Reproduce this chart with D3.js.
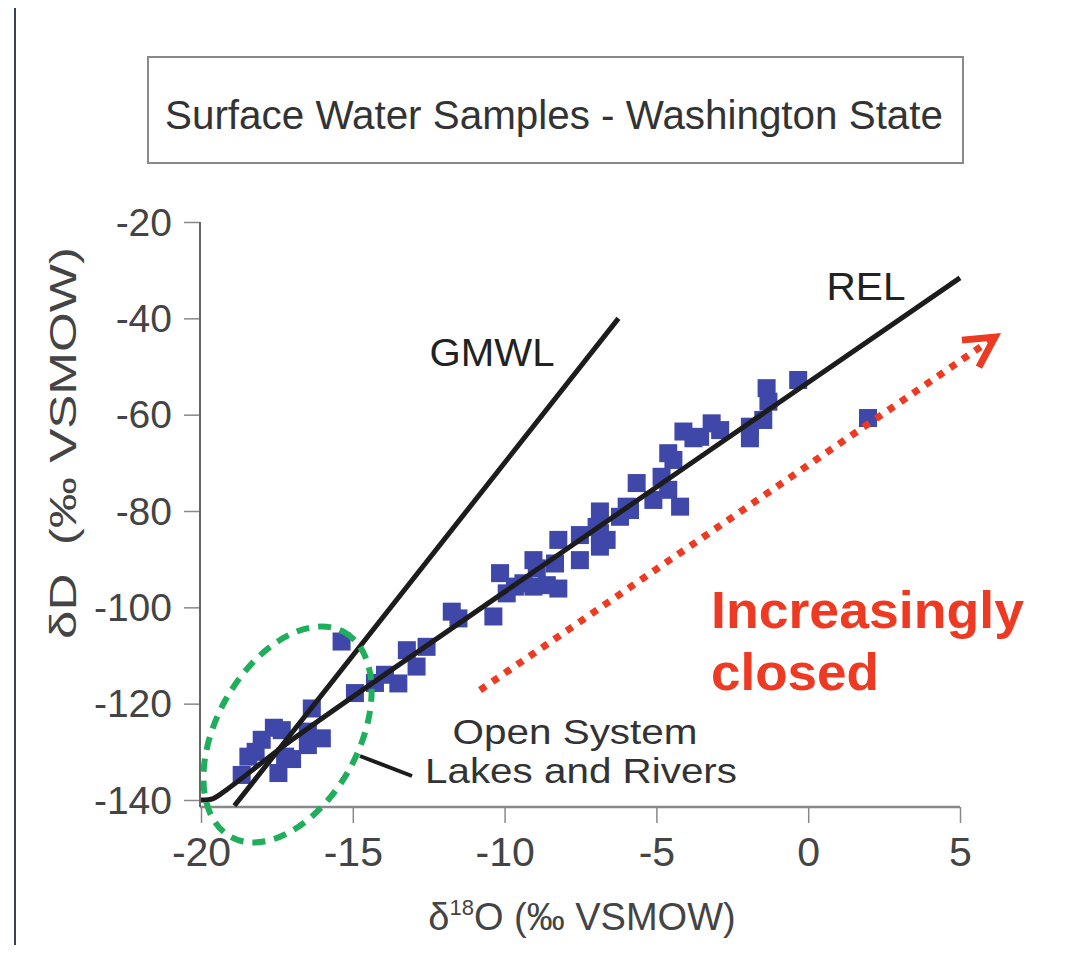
<!DOCTYPE html>
<html>
<head>
<meta charset="utf-8">
<script src="https://cdn.jsdelivr.net/npm/d3@7"></script>
<style>
  body { margin: 0; background: #fff; }
  svg text { font-family: "Liberation Sans", Arial, sans-serif; }
</style>
</head>
<body>
<div id="chart"></div>
<script>
// samples: [d18O, dD]
var lowerCluster = [
  [-18.66, -134.8], [-18.44, -131], [-18.2, -130], [-18.0, -127.5], [-17.6, -125],
  [-17.45, -134.4], [-17.34, -125.5], [-17.23, -131], [-17.0, -131.5], [-16.48, -125.8],
  [-16.48, -128.6], [-16.35, -121], [-16.02, -127.2], [-15.37, -107.1], [-14.93, -117.8],
  [-14.27, -115.7], [-13.94, -114], [-13.5, -115.8], [-13.22, -108.9], [-12.9, -112.3],
  [-12.57, -108.2]
];
var middleCluster = [
  [-11.74, -100.9], [-11.52, -102.3], [-10.37, -101.9], [-10.15, -92.9], [-9.93, -97.1],
  [-9.66, -95.7], [-9.38, -95], [-9.05, -90.2], [-8.94, -91.9], [-9.05, -95.7],
  [-8.61, -95.4], [-8.23, -96.1], [-8.34, -90.9], [-8.23, -86], [-7.52, -90.2],
  [-7.52, -85], [-6.97, -83.3], [-6.86, -80.1], [-6.86, -87.4], [-6.64, -86],
  [-6.2, -81.2], [-5.98, -79.1], [-6.86, -84.6]
];
var upperCluster = [
  [-5.87, -79.8], [-5.65, -74.2], [-5.1, -77.7], [-4.83, -72.9], [-4.61, -75.6],
  [-4.22, -79.1], [-4.61, -68], [-4.44, -69.4], [-4.11, -63.5], [-3.78, -64.9],
  [-3.56, -64.6], [-3.18, -61.8], [-2.9, -63.2], [-1.92, -62.5], [-1.92, -64.9],
  [-1.48, -61.1], [-1.37, -54.5], [-1.31, -57.3], [-0.33, -52.8], [1.97, -60.7]
];

// reference lines
var gmwl = [[-18.9, -141.2], [-6.25, -40]];
var rel = [[-20, -140], [-19.6, -139.7], [-19.1, -137.6], [-17, -127.5], [-10, -96.8], [5, -31.6]];
// "increasingly closed" trend arrow
var trendArrow = [[-10.81, -117.2], [6.15, -43.9]];

var xTicks = [-20, -15, -10, -5, 0, 5];
var yTicks = [-20, -40, -60, -80, -100, -120, -140];

var svg = d3.select("#chart").append("svg")
  .attr("width", 1076)
  .attr("height", 953);

var x = d3.scaleLinear().domain([-20, 5]).range([201, 960]);
var y = d3.scaleLinear().domain([-140, -20]).range([800, 222]);
var axisY = 807;

// stretch a text to the width it has in the figure
function fit(sel, w) {
  sel.attr("textLength", w).attr("lengthAdjust", "spacingAndGlyphs");
  return sel;
}

// thin frame line on the left edge of the slide
svg.append("line")
  .attr("x1", 15).attr("x2", 15).attr("y1", 8).attr("y2", 945)
  .style("stroke", "#3a4150").style("stroke-width", 2);

// title box
svg.append("rect")
  .attr("x", 148).attr("y", 57).attr("width", 815).attr("height", 106)
  .style("fill", "none").style("stroke", "#8a8a8a").style("stroke-width", 2);
fit(svg.append("text")
  .attr("x", 554).attr("y", 129)
  .style("text-anchor", "middle")
  .style("font-size", "40px")
  .style("fill", "#333")
  .text("Surface Water Samples - Washington State"), 778);

// axes
var gx = svg.append("g").attr("transform", "translate(0," + axisY + ")");
gx.call(d3.axisBottom(x).tickValues(d3.range(-20, 6, 1)).tickSize(8).tickFormat(""));
gx.call(d3.axisBottom(x).tickValues(xTicks).tickSize(16).tickFormat(function (d) { return String(d); }));
gx.selectAll("path.domain").remove();
gx.selectAll("line").style("stroke", "#888").style("stroke-width", 1.5);
gx.selectAll("text")
  .attr("y", 59)
  .attr("dy", 0)
  .style("font-size", "41px")
  .style("fill", "#444")
  .style("font-family", "'Liberation Sans', Arial, sans-serif");

var gy = svg.append("g").attr("transform", "translate(200,0)");
gy.call(d3.axisLeft(y).tickValues(d3.range(-140, -19, 5)).tickSize(9).tickFormat(""));
gy.call(d3.axisLeft(y).tickValues(yTicks).tickSize(16).tickFormat(function (d) { return String(d); }));
gy.selectAll("path.domain").remove();
gy.selectAll("line").style("stroke", "#888").style("stroke-width", 1.5);
gy.selectAll("text")
  .attr("x", -28)
  .attr("dy", "0.34em")
  .style("font-size", "39px")
  .style("fill", "#444")
  .style("font-family", "'Liberation Sans', Arial, sans-serif");

svg.append("line")
  .attr("x1", 200).attr("x2", 960).attr("y1", axisY).attr("y2", axisY)
  .style("stroke", "#888").style("stroke-width", 2.5);
svg.append("line")
  .attr("x1", 200).attr("x2", 200).attr("y1", y(-20)).attr("y2", axisY)
  .style("stroke", "#666").style("stroke-width", 2);

// axis titles
fit(svg.append("text")
  .attr("transform", "translate(76,443) rotate(-90)")
  .style("text-anchor", "middle")
  .style("font-size", "36px")
  .style("fill", "#444")
  .style("white-space", "pre")
  .text("\u03B4D  (\u2030 VSMOW)"), 392);

var xt = svg.append("text")
  .attr("x", 582).attr("y", 930)
  .style("text-anchor", "middle")
  .style("font-size", "38px")
  .style("fill", "#444");
xt.append("tspan").text("\u03B4");
xt.append("tspan").attr("dy", -15).style("font-size", "22px").text("18");
xt.append("tspan").attr("dy", 15).text("O (\u2030 VSMOW)");

var line = d3.line().x(function (d) { return x(d[0]); }).y(function (d) { return y(d[1]); });

// data squares
var size = 18;
var samples = lowerCluster.concat(middleCluster, upperCluster);
svg.append("g").selectAll("rect")
  .data(samples)
  .enter()
  .append("rect")
  .attr("x", function (d) { return x(d[0]) - size / 2; })
  .attr("y", function (d) { return y(d[1]) - size / 2; })
  .attr("width", size)
  .attr("height", size)
  .style("fill", "#3f48a9");

// GMWL and REL
svg.append("path")
  .attr("d", line(gmwl))
  .style("fill", "none").style("stroke", "#1c1c1c").style("stroke-width", 5);
svg.append("path")
  .attr("d", line.curve(d3.curveCatmullRom)(rel))
  .style("fill", "none").style("stroke", "#1c1c1c").style("stroke-width", 5);
line.curve(d3.curveLinear);

fit(svg.append("text")
  .attr("x", 492).attr("y", 366)
  .style("text-anchor", "middle")
  .style("font-size", "39px")
  .style("fill", "#222")
  .text("GMWL"), 125);
fit(svg.append("text")
  .attr("x", 866).attr("y", 300)
  .style("text-anchor", "middle")
  .style("font-size", "39px")
  .style("fill", "#222")
  .text("REL"), 79);

// open system ellipse (green dashed)
var ec = [-17.15, -126.4];
svg.append("ellipse")
  .attr("cx", 0).attr("cy", 0).attr("rx", 117).attr("ry", 71)
  .attr("transform", "translate(" + x(ec[0]) + "," + y(ec[1]) + ") rotate(-61)")
  .style("fill", "none")
  .style("stroke", "#1fae5c")
  .style("stroke-width", 6)
  .style("stroke-dasharray", "13,9");

// annotation for the ellipse
svg.append("line")
  .attr("x1", 360).attr("y1", 756).attr("x2", 412).attr("y2", 776)
  .style("stroke", "#1c1c1c").style("stroke-width", 4);
fit(svg.append("text")
  .attr("x", 575).attr("y", 744)
  .style("text-anchor", "middle")
  .style("font-size", "35px")
  .style("fill", "#333")
  .text("Open System"), 245);
fit(svg.append("text")
  .attr("x", 581).attr("y", 783)
  .style("text-anchor", "middle")
  .style("font-size", "35px")
  .style("fill", "#333")
  .text("Lakes and Rivers"), 312);

// red dotted trend arrow
var red = "#ee3a22";
svg.append("path")
  .attr("d", line(trendArrow))
  .style("fill", "none")
  .style("stroke", red)
  .style("stroke-width", 7)
  .style("stroke-dasharray", "7,8");
var tip = [x(trendArrow[1][0]), y(trendArrow[1][1])];
svg.append("path")
  .attr("d", "M" + (tip[0] - 33) + "," + (tip[1] + 3) + "L" + tip[0] + "," + tip[1] + "L" + (tip[0] - 16) + "," + (tip[1] + 30))
  .style("fill", "none")
  .style("stroke", red)
  .style("stroke-width", 7)
  .style("stroke-linejoin", "miter");

var closedWidths = [313, 168];
svg.selectAll("closed_text")
  .data(["Increasingly", "closed"])
  .enter()
  .append("text")
  .attr("x", 711)
  .attr("y", function (d, i) { return 628 + i * 62; })
  .attr("textLength", function (d, i) { return closedWidths[i]; })
  .attr("lengthAdjust", "spacingAndGlyphs")
  .style("font-size", "52px")
  .style("font-weight", "bold")
  .style("fill", red)
  .text(function (d) { return d; });
</script>
</body>
</html>
